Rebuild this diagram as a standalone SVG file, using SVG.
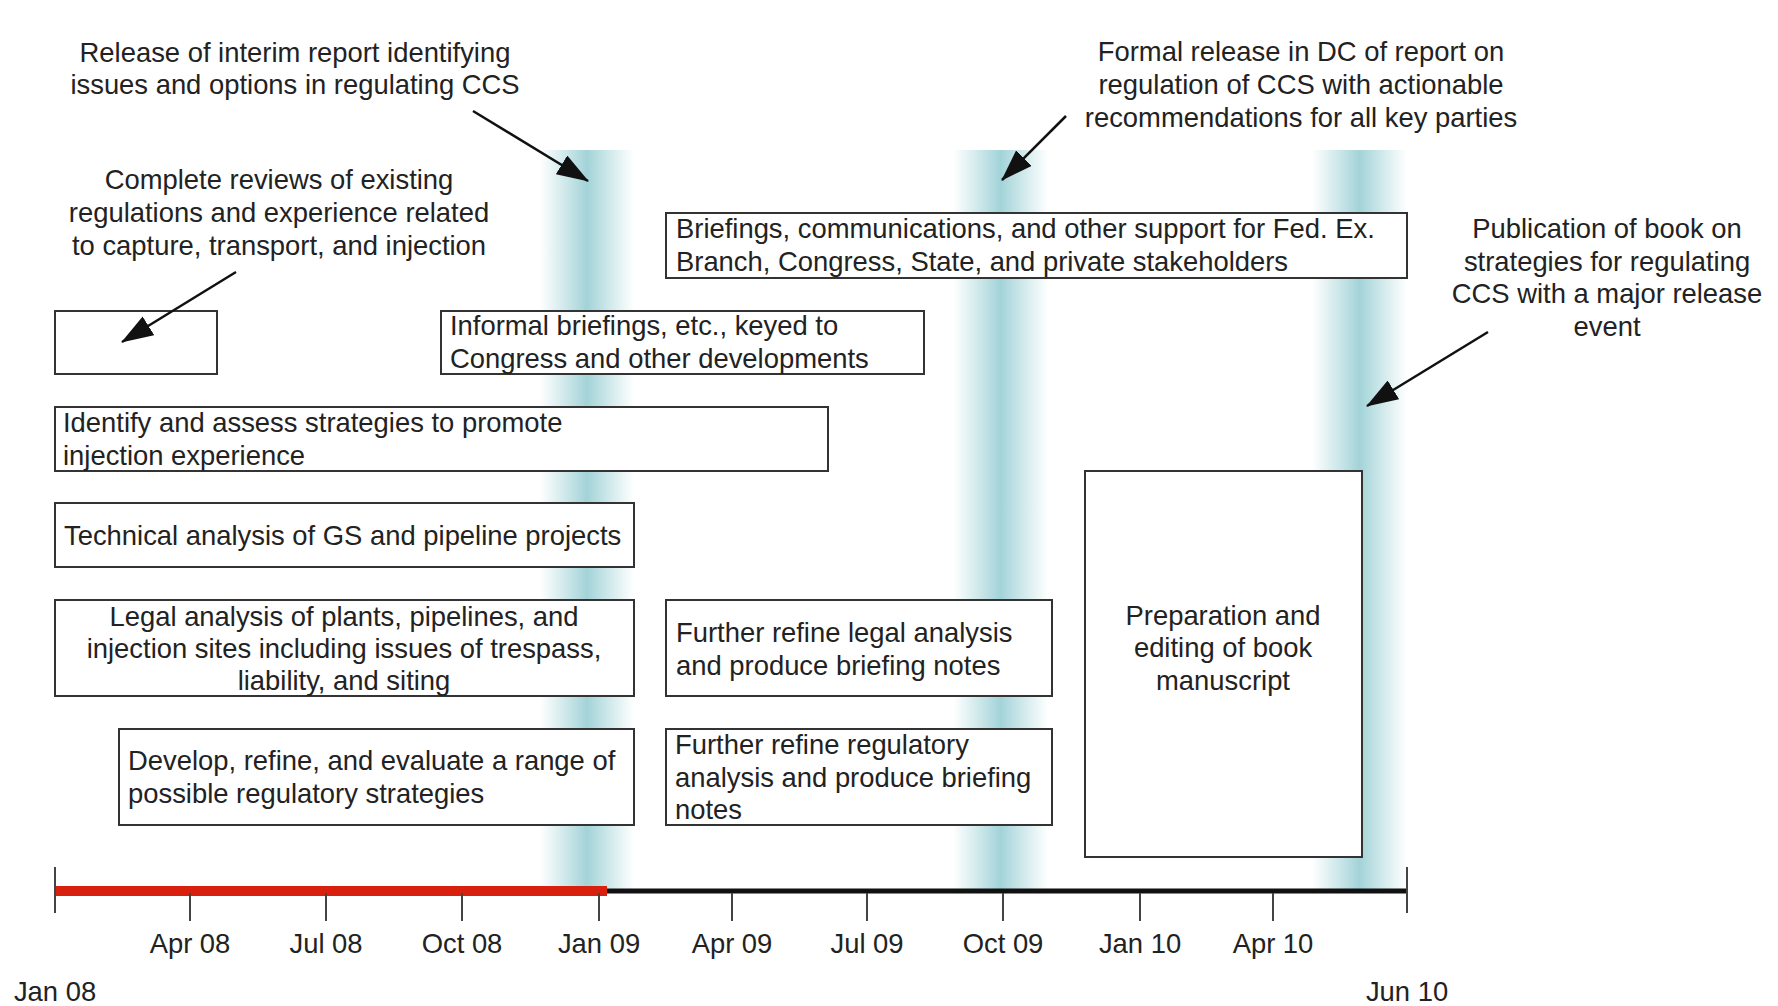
<svg xmlns="http://www.w3.org/2000/svg" width="1778" height="1006" viewBox="0 0 1778 1006">
<style>
text{font-family:"Liberation Sans",Arial,sans-serif;font-size:27.4px;fill:#222}
.c{text-anchor:middle}
.box{fill:#fff;stroke:#333;stroke-width:2}
.arr{stroke:#111;stroke-width:2.5;fill:none;marker-end:url(#ah)}
.tk{stroke:#444;stroke-width:2}
</style>
<defs>
<linearGradient id="band" x1="0" y1="0" x2="1" y2="0">
<stop offset="0" stop-color="#a9d6da" stop-opacity="0"/>
<stop offset="0.5" stop-color="#a2d3d8" stop-opacity="1"/>
<stop offset="1" stop-color="#a9d6da" stop-opacity="0"/>
</linearGradient>
<marker id="ah" markerUnits="userSpaceOnUse" markerWidth="32" markerHeight="22" refX="31" refY="11" orient="auto">
<path d="M0,0 L32,11 L0,22 z" fill="#111"/>
</marker>
</defs>
<rect width="1778" height="1006" fill="#fff"/>
<g id="bands">
<rect x="540" y="150" width="94" height="741" fill="url(#band)"/>
<rect x="953" y="150" width="95" height="741" fill="url(#band)"/>
<rect x="1312" y="150" width="95" height="741" fill="url(#band)"/>
</g>
<g id="timeline">
<line x1="55" y1="891" x2="1407" y2="891" stroke="#111" stroke-width="5"/>
<line x1="55" y1="891" x2="607" y2="891" stroke="#d8200f" stroke-width="10"/>
<line class="tk" x1="55" y1="867" x2="55" y2="913"/>
<line class="tk" x1="1407" y1="867" x2="1407" y2="913" stroke="#111"/>
<line class="tk" x1="190" y1="893" x2="190" y2="921"/>
<line class="tk" x1="326" y1="893" x2="326" y2="921"/>
<line class="tk" x1="462" y1="893" x2="462" y2="921"/>
<line class="tk" x1="599" y1="893" x2="599" y2="921"/>
<line class="tk" x1="732" y1="893" x2="732" y2="921"/>
<line class="tk" x1="867" y1="893" x2="867" y2="921"/>
<line class="tk" x1="1003" y1="893" x2="1003" y2="921"/>
<line class="tk" x1="1140" y1="893" x2="1140" y2="921"/>
<line class="tk" x1="1273" y1="893" x2="1273" y2="921"/>
<text class="c" x="190" y="953">Apr 08</text>
<text class="c" x="326" y="953">Jul 08</text>
<text class="c" x="462" y="953">Oct 08</text>
<text class="c" x="599" y="953">Jan 09</text>
<text class="c" x="732" y="953">Apr 09</text>
<text class="c" x="867" y="953">Jul 09</text>
<text class="c" x="1003" y="953">Oct 09</text>
<text class="c" x="1140" y="953">Jan 10</text>
<text class="c" x="1273" y="953">Apr 10</text>
<text class="c" x="55" y="1001">Jan 08</text>
<text class="c" x="1407" y="1001">Jun 10</text>
</g>
<g id="note-release">
<text class="c" x="295" y="62">Release of interim report identifying</text>
<text class="c" x="295" y="94">issues and options in regulating CCS</text>
</g>
<g id="note-complete">
<text class="c" x="279" y="189">Complete reviews of existing</text>
<text class="c" x="279" y="222">regulations and experience related</text>
<text class="c" x="279" y="255">to capture, transport, and injection</text>
</g>
<g id="note-formal">
<text class="c" x="1301" y="61">Formal release in DC of report on</text>
<text class="c" x="1301" y="94">regulation of CCS with actionable</text>
<text class="c" x="1301" y="127">recommendations for all key parties</text>
</g>
<g id="note-publication">
<text class="c" x="1607" y="238">Publication of book on</text>
<text class="c" x="1607" y="271">strategies for regulating</text>
<text class="c" x="1607" y="303">CCS with a major release</text>
<text class="c" x="1607" y="336">event</text>
</g>
<g id="box-reviews">
<rect class="box" x="55" y="311" width="162" height="63"/>
</g>
<g id="box-informal">
<rect class="box" x="441" y="311" width="483" height="63"/>
<text x="450" y="335">Informal briefings, etc., keyed to</text>
<text x="450" y="368">Congress and other developments</text>
</g>
<g id="box-briefings">
<rect class="box" x="666" y="213" width="741" height="65"/>
<text x="676" y="238">Briefings, communications, and other support for Fed. Ex.</text>
<text x="676" y="271">Branch, Congress, State, and private stakeholders</text>
</g>
<g id="box-identify">
<rect class="box" x="55" y="407" width="773" height="64"/>
<text x="63" y="432">Identify and assess strategies to promote</text>
<text x="63" y="465">injection experience</text>
</g>
<g id="box-technical">
<rect class="box" x="55" y="503" width="579" height="64"/>
<text x="64" y="545">Technical analysis of GS and pipeline projects</text>
</g>
<g id="box-legal">
<rect class="box" x="55" y="600" width="579" height="96"/>
<text class="c" x="344" y="626">Legal analysis of plants, pipelines, and</text>
<text class="c" x="344" y="658">injection sites including issues of trespass,</text>
<text class="c" x="344" y="690">liability, and siting</text>
</g>
<g id="box-develop">
<rect class="box" x="119" y="729" width="515" height="96"/>
<text x="128" y="770">Develop, refine, and evaluate a range of</text>
<text x="128" y="803">possible regulatory strategies</text>
</g>
<g id="box-refine-legal">
<rect class="box" x="666" y="600" width="386" height="96"/>
<text x="676" y="642">Further refine legal analysis</text>
<text x="676" y="675">and produce briefing notes</text>
</g>
<g id="box-refine-reg">
<rect class="box" x="666" y="729" width="386" height="96"/>
<text x="675" y="754">Further refine regulatory</text>
<text x="675" y="787">analysis and produce briefing</text>
<text x="675" y="819">notes</text>
</g>
<g id="box-book">
<rect class="box" x="1085" y="471" width="277" height="386"/>
<text class="c" x="1223" y="625">Preparation and</text>
<text class="c" x="1223" y="657">editing of book</text>
<text class="c" x="1223" y="690">manuscript</text>
</g>
<g id="connectors">
<line class="arr" x1="473" y1="111" x2="588" y2="181"/>
<line class="arr" x1="236" y1="272" x2="122" y2="342"/>
<line class="arr" x1="1066" y1="116" x2="1002" y2="180"/>
<line class="arr" x1="1488" y1="332" x2="1367" y2="406"/>
</g>
</svg>
